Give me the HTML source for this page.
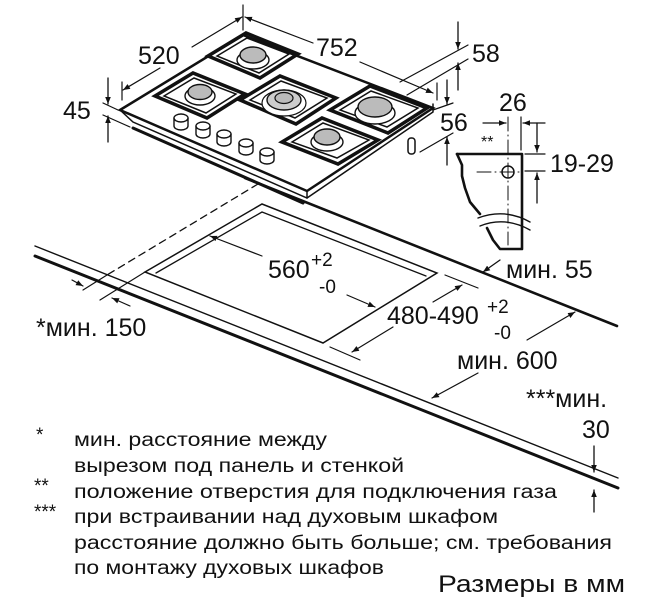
<!DOCTYPE html>
<html><head><meta charset="utf-8"><style>
html,body{margin:0;padding:0;background:#fff;}
svg{display:block;}
text{font-family:"Liberation Sans",sans-serif;fill:#111;}
</style></head><body>
<svg width="659" height="601" viewBox="0 0 659 601" xmlns="http://www.w3.org/2000/svg">
<defs>
<marker id="a" viewBox="0 0 10 10" refX="10" refY="5" markerWidth="7" markerHeight="7" orient="auto-start-reverse" markerUnits="userSpaceOnUse"><path d="M0,1 L10,5 L0,9 z" fill="#111"/></marker>
</defs>
<g stroke="#111" fill="none" stroke-linecap="round">
<line x1="35" y1="246" x2="618" y2="478" stroke-width="1.4"/>
<line x1="35" y1="256" x2="618" y2="488" stroke-width="3"/>
<line x1="245" y1="178" x2="617" y2="326" stroke-width="2.6"/>
<line x1="258" y1="184" x2="107" y2="275" stroke-width="1.3" stroke-dasharray="7,5"/>
<line x1="107" y1="275" x2="83" y2="290" stroke-width="1.2"/>
<line x1="145" y1="272" x2="100" y2="300" stroke-width="1.2"/>
<line x1="72" y1="280" x2="83" y2="286" stroke-width="1.2" marker-end="url(#a)"/>
<line x1="130" y1="306" x2="112" y2="298" stroke-width="1.2" marker-end="url(#a)"/>
<path d="M145,272 L262,204 L437,273 L323,343 Z" stroke-width="1.5"/>
<path d="M156,273 L262,212 L426,276" stroke-width="1.3"/>
<line x1="262" y1="256" x2="210" y2="236" stroke-width="1.2" marker-end="url(#a)"/>
<line x1="347" y1="295" x2="375" y2="307" stroke-width="1.2" marker-end="url(#a)"/>
<line x1="445" y1="275" x2="478" y2="288" stroke-width="1.2"/>
<line x1="330" y1="347" x2="360" y2="360" stroke-width="1.2"/>
<line x1="433" y1="302" x2="462" y2="285" stroke-width="1.2" marker-end="url(#a)"/>
<line x1="393" y1="327" x2="352" y2="352" stroke-width="1.2" marker-end="url(#a)"/>
<line x1="500" y1="260" x2="483" y2="272" stroke-width="1.3" marker-end="url(#a)"/>
<line x1="527" y1="340" x2="575" y2="312" stroke-width="1.2" marker-end="url(#a)"/>
<line x1="478" y1="373" x2="432" y2="398" stroke-width="1.2" marker-end="url(#a)"/>
<line x1="594" y1="446" x2="594" y2="472" stroke-width="1.3" marker-end="url(#a)"/>
<line x1="594" y1="512" x2="594" y2="490" stroke-width="1.3" marker-end="url(#a)"/>

<path d="M120,110 L133,122 L307,198 L433,112 L433,104" stroke-width="1.5" fill="#fff"/>
<path d="M133,128 L303,203" stroke-width="3"/>
<path d="M120,110 L243,35 L433,108 L307,191 Z" stroke-width="2.5" fill="#fff"/>
<path d="M307,191 L307,198" stroke-width="1.5"/>
<rect x="408" y="138" width="7" height="16" rx="3" stroke-width="1.5" fill="#fff"/>
<g stroke-width="1.4" fill="#fff">
<path d="M174,118 v8 a7,4 0 0 0 14,0 v-8"/><ellipse cx="181" cy="118" rx="7" ry="4"/>
<path d="M196,126 v8 a7,4 0 0 0 14,0 v-8"/><ellipse cx="203" cy="126" rx="7" ry="4"/>
<path d="M217,134 v8 a7,4 0 0 0 14,0 v-8"/><ellipse cx="224" cy="134" rx="7" ry="4"/>
<path d="M239,143 v8 a7,4 0 0 0 14,0 v-8"/><ellipse cx="246" cy="143" rx="7" ry="4"/>
<path d="M260,152 v8 a7,4 0 0 0 14,0 v-8"/><ellipse cx="267" cy="152" rx="7" ry="4"/>
</g>
<path d="M155,96 L193,73 L245,94 L207,118 Z" stroke-width="3.5"/>
<path d="M164,96 L194,78 L236,94 L206,113 Z" stroke-width="1.5"/>
<ellipse cx="200" cy="96" rx="15" ry="9" stroke-width="1.4" fill="#fff"/>
<ellipse cx="200" cy="92" rx="12" ry="7.5" stroke-width="1.4" fill="#bbb"/>
<path d="M208,56 L246,33 L298,54 L260,78 Z" stroke-width="3.5"/>
<path d="M217,56 L247,38 L289,54 L259,73 Z" stroke-width="1.5"/>
<ellipse cx="253" cy="60" rx="16" ry="9" stroke-width="1.4" fill="#fff"/>
<ellipse cx="253" cy="55" rx="13" ry="8" stroke-width="1.4" fill="#bbb"/>
<path d="M240,100 L280,76 L336,98 L296,124 Z" stroke-width="3.5"/>
<path d="M250,100 L281,81 L327,98 L295,118 Z" stroke-width="1.5"/>
<ellipse cx="284" cy="103" rx="22" ry="13" stroke-width="1.2" fill="#fff"/>
<ellipse cx="284" cy="100" rx="17" ry="10" stroke-width="1.4" fill="#ccc"/>
<ellipse cx="284" cy="98" rx="9" ry="5.5" stroke-width="1.2" fill="#bbb"/>
<path d="M330,110 L370,86 L427,108 L388,133 Z" stroke-width="3.5"/>
<path d="M340,110 L371,91 L418,108 L387,127 Z" stroke-width="1.5"/>
<ellipse cx="375" cy="113" rx="20" ry="11" stroke-width="1.4" fill="#fff"/>
<ellipse cx="375" cy="107" rx="17" ry="10" stroke-width="1.4" fill="#bbb"/>
<path d="M282,142 L322,118 L378,140 L338,164 Z" stroke-width="3.5"/>
<path d="M292,142 L323,123 L369,140 L337,158 Z" stroke-width="1.5"/>
<ellipse cx="327" cy="142" rx="16" ry="9" stroke-width="1.4" fill="#fff"/>
<ellipse cx="327" cy="137" rx="13" ry="8" stroke-width="1.4" fill="#bbb"/>

<line x1="122" y1="82" x2="122" y2="100" stroke-width="1.2"/>
<line x1="243" y1="5" x2="243" y2="30" stroke-width="1.2"/>
<line x1="160" y1="68" x2="123" y2="90" stroke-width="1.2" marker-end="url(#a)"/>
<line x1="192" y1="47" x2="242" y2="17" stroke-width="1.2" marker-end="url(#a)"/>
<line x1="313" y1="43" x2="245" y2="17" stroke-width="1.2" marker-end="url(#a)"/>
<line x1="360" y1="62" x2="433" y2="93" stroke-width="1.2" marker-end="url(#a)"/>
<line x1="437" y1="83" x2="437" y2="100" stroke-width="1.2"/>
<line x1="103" y1="103" x2="118" y2="110" stroke-width="1.2"/>
<line x1="103" y1="115" x2="130" y2="127" stroke-width="1.2"/>
<line x1="108" y1="78" x2="108" y2="104" stroke-width="1.3" marker-end="url(#a)"/>
<line x1="108" y1="142" x2="108" y2="116" stroke-width="1.3" marker-end="url(#a)"/>
<line x1="400" y1="82" x2="468" y2="45" stroke-width="1.2"/>
<line x1="407" y1="95" x2="468" y2="59" stroke-width="1.2"/>
<line x1="458" y1="22" x2="458" y2="49" stroke-width="1.3" marker-end="url(#a)"/>
<line x1="458" y1="90" x2="458" y2="63" stroke-width="1.3" marker-end="url(#a)"/>
<line x1="433" y1="110" x2="453" y2="103" stroke-width="1.2"/>
<line x1="420" y1="152" x2="453" y2="133" stroke-width="1.2"/>
<line x1="447" y1="80" x2="447" y2="104" stroke-width="1.3" marker-end="url(#a)"/>
<line x1="447" y1="165" x2="447" y2="137" stroke-width="1.3" marker-end="url(#a)"/>

<path d="M457,154 L522,154 L522,249 L500,249 L493,240 L487,228" stroke-width="2.6" stroke-linejoin="round"/>
<path d="M480,214 L470,202 L465,188 L462,176 L462,165 L457,154" stroke-width="2.6" stroke-linejoin="round"/>
<path d="M478,218 Q505,208 530,222" stroke-width="1.4"/>
<path d="M480,226 Q505,216 530,230" stroke-width="1.4"/>
<circle cx="508" cy="172" r="6" stroke-width="1.5" fill="#fff"/>
<line x1="508" y1="117" x2="508" y2="245" stroke-width="1" stroke-dasharray="14,4,1,4"/>
<line x1="477" y1="172" x2="522" y2="172" stroke-width="1" stroke-dasharray="14,4,1,4"/>
<line x1="521" y1="117" x2="521" y2="150" stroke-width="1.2"/>
<line x1="483" y1="123" x2="506" y2="123" stroke-width="1.2" marker-end="url(#a)"/>
<line x1="545" y1="123" x2="523" y2="123" stroke-width="1.2" marker-end="url(#a)"/>
<line x1="525" y1="154" x2="545" y2="154" stroke-width="1.2"/>
<line x1="525" y1="171" x2="545" y2="171" stroke-width="1.2"/>
<line x1="537" y1="123" x2="537" y2="152" stroke-width="1.3" marker-end="url(#a)"/>
<line x1="537" y1="203" x2="537" y2="173" stroke-width="1.3" marker-end="url(#a)"/>
</g>

<g font-size="25">
<text x="138" y="64">520</text>
<text x="316" y="56">752</text>
<text x="472" y="62">58</text>
<text x="63" y="119">45</text>
<text x="440" y="131">56</text>
<text x="499" y="111">26</text>
<text x="481" y="147" font-size="16">**</text>
<text x="550" y="172">19-29</text>
<text x="506" y="278">мин. 55</text>
<text x="268" y="278">560</text>
<text x="311" y="266" font-size="19">+2</text>
<text x="319" y="293" font-size="19">-0</text>
<text x="387" y="324">480-490</text>
<text x="487" y="313" font-size="19">+2</text>
<text x="494" y="339" font-size="19">-0</text>
<text x="36" y="336">*мин. 150</text>
<text x="457" y="369">мин. 600</text>
<text x="526" y="407">***мин.</text>
<text x="582" y="438">30</text>
</g>
<g font-size="19">
<text x="36" y="441">*</text>
<text x="74" y="446" textLength="253" lengthAdjust="spacingAndGlyphs">мин. расстояние между</text>
<text x="74" y="472" textLength="330" lengthAdjust="spacingAndGlyphs">вырезом под панель и стенкой</text>
<text x="34" y="492">**</text>
<text x="74" y="498" textLength="483" lengthAdjust="spacingAndGlyphs">положение отверстия для подключения газа</text>
<text x="34" y="518">***</text>
<text x="74" y="523" textLength="424" lengthAdjust="spacingAndGlyphs">при встраивании над духовым шкафом</text>
<text x="74" y="549" textLength="538" lengthAdjust="spacingAndGlyphs">расстояние должно быть больше; см. требования</text>
<text x="74" y="574" textLength="310" lengthAdjust="spacingAndGlyphs">по монтажу духовых шкафов</text>
</g>
<text x="438" y="592" font-size="24" textLength="187" lengthAdjust="spacingAndGlyphs">Размеры в мм</text>
</svg>
</body></html>
